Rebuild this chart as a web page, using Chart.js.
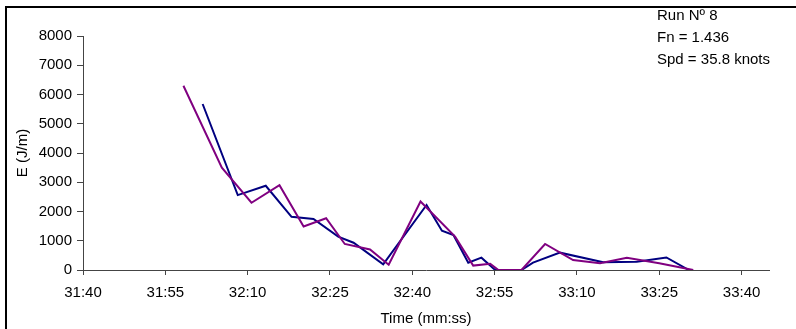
<!DOCTYPE html>
<html>
<head>
<meta charset="utf-8">
<script src="https://cdn.jsdelivr.net/npm/chart.js@4/dist/chart.umd.min.js"></script>
<style>
  html, body { margin: 0; padding: 0; background: #fff; }
  #wrap { width: 796px; height: 329px; }
</style>
</head>
<body>
<div id="wrap"><canvas id="energyChart" width="796" height="329"></canvas></div>
<script>
// time in seconds (31:40 = 1900 s), energy in J/m
const purpleTimes  = [1918.3, 1925.3, 1930.7, 1935.8, 1940.2, 1944.3, 1947.7, 1952.3, 1955.7, 1961.5, 1967.8, 1971.1, 1974.2, 1975.7, 1979.9, 1984.2, 1989.3, 1994.2, 1999.1, 2005.0, 2011.2];
const purpleValues = [6300, 3500, 2300, 2900, 1490, 1770, 890, 700, 180, 2340, 1140, 150, 210, 0, 0, 890, 340, 230, 420, 230, 0];

const navyTimes  = [1921.8, 1928.2, 1933.3, 1938.0, 1942.0, 1946.5, 1949.3, 1954.7, 1962.6, 1965.4, 1967.5, 1970.2, 1972.6, 1975.1, 1979.9, 1982.0, 1986.9, 1994.8, 2000.9, 2006.3, 2010.4];
const navyValues = [5675, 2560, 2880, 1820, 1745, 1140, 933, 194, 2222, 1345, 1197, 251, 422, 0, 0, 250, 593, 262, 285, 430, 0];

const xTickValues = [1900, 1915, 1930, 1945, 1960, 1975, 1990, 2005, 2020];
const infoLines = ['Run Nº 8', 'Fn = 1.436', 'Spd = 35.8 knots'];

function toPoints(ts, vs) {
    return ts.map(function(t, i){ return { x: t, y: vs[i] }; });
}

function mmss(v) {
    const m = Math.floor(v / 60);
    const s = Math.round(v - m * 60);
    return m + ':' + (s < 10 ? '0' + s : s);
}

const axisFont = { family: 'Liberation Sans, Arial, sans-serif', size: 15 };

// frame line + run info text
const extras = {
    id: 'extras',
    afterDraw(chart) {
        const ctx = chart.ctx;
        ctx.save();
        ctx.strokeStyle = '#000';
        ctx.lineWidth = 2;
        ctx.beginPath();
        ctx.moveTo(6, 329);
        ctx.lineTo(6, 7);
        ctx.lineTo(796, 7);
        ctx.stroke();
        ctx.fillStyle = '#000';
        ctx.font = '15px "Liberation Sans", Arial, sans-serif';
        ctx.textBaseline = 'middle';
        infoLines.forEach(function(txt, i){
            ctx.fillText(txt, 657, 16 + i * 22);
        });
        ctx.restore();
    }
};

const ctx = document.getElementById('energyChart').getContext('2d');
window.energyChart = new Chart(ctx, {
    type: 'line',
    data: {
        datasets: [{
            label: 'A',
            data: toPoints(purpleTimes, purpleValues),
            borderColor: '#800080',
            borderWidth: 2,
            pointRadius: 0,
            tension: 0
        }, {
            label: 'B',
            data: toPoints(navyTimes, navyValues),
            borderColor: '#000080',
            borderWidth: 2,
            pointRadius: 0,
            tension: 0
        }]
    },
    options: {
        responsive: false,
        animation: false,
        devicePixelRatio: 1,
        layout: { padding: { left: 0, top: 36, right: 27, bottom: 0 } },
        plugins: { legend: { display: false }, tooltip: { enabled: false } },
        scales: {
            x: {
                type: 'linear',
                min: 1900,
                max: 2025,
                afterBuildTicks: function(scale){
                    scale.ticks = xTickValues.map(function(v){ return { value: v }; });
                },
                afterFit: function(scale){ scale.height = 59; },
                ticks: {
                    color: '#000',
                    font: axisFont,
                    padding: 9,
                    maxRotation: 0,
                    autoSkip: false,
                    callback: function(v){ return mmss(v); }
                },
                grid: { drawOnChartArea: false, drawTicks: true, tickLength: 5, color: '#444' },
                border: { display: true, color: '#444', width: 1 },
                title: {
                    display: true,
                    text: 'Time (mm:ss)',
                    color: '#000',
                    font: axisFont,
                    padding: { top: 0, bottom: 1 }
                }
            },
            y: {
                min: 0,
                max: 8000,
                afterFit: function(scale){ scale.width = 83; },
                ticks: {
                    stepSize: 1000,
                    color: '#000',
                    font: axisFont,
                    padding: 5,
                    callback: function(v){ return String(v); }
                },
                grid: { drawOnChartArea: false, drawTicks: true, tickLength: 6, color: '#444' },
                border: { display: true, color: '#444', width: 1 },
                title: {
                    display: true,
                    text: 'E (J/m)',
                    color: '#000',
                    font: axisFont,
                    padding: { top: 14, bottom: 0 }
                }
            }
        }
    },
    plugins: [extras]
});
</script>
</body>
</html>
